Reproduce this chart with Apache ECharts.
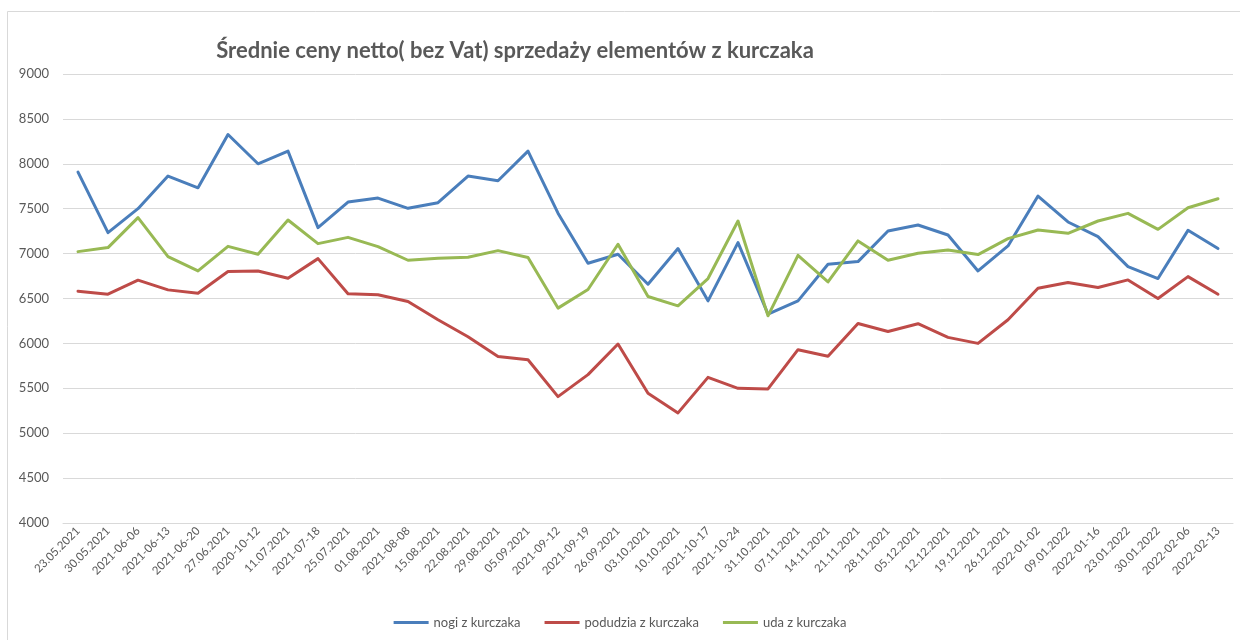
<!DOCTYPE html>
<html>
<head>
<meta charset="utf-8">
<script src="https://cdn.jsdelivr.net/npm/echarts@6/dist/echarts.min.js"></script>
<style>
html,body{margin:0;padding:0;background:#fff;}
#chart{width:1240px;height:640px;}
</style>
</head>
<body>
<div id="chart"></div>
<script>
const categories = ['23.05.2021','30.05.2021','2021-06-06','2021-06-13','2021-06-20','27.06.2021','2020-10-12','11.07.2021','2021-07-18','25.07.2021','01.08.2021','2021-08-08','15.08.2021','22.08.2021','29.08.2021','05.09.2021','2021-09-12','2021-09-19','26.09.2021','03.10.2021','10.10.2021','2021-10-17','2021-10-24','31.10.2021','07.11.2021','14.11.2021','21.11.2021','28.11.2021','05.12.2021','12.12.2021','19.12.2021','26.12.2021','2022-01-02','09.01.2022','2022-01-16','23.01.2022','30.01.2022','2022-02-06','2022-02-13'];

const nogi = [7907,7233,7500,7863,7733,8326,8000,8141,7289,7574,7618,7504,7567,7863,7811,8141,7450,6893,6993,6659,7056,6474,7122,6326,6474,6881,6911,7252,7318,7207,6807,7085,7641,7352,7189,6855,6722,7259,7056];
const podudzia = [6581,6548,6704,6596,6559,6800,6807,6726,6944,6552,6541,6467,6263,6074,5855,5818,5407,5652,5993,5444,5226,5622,5500,5493,5930,5856,6222,6133,6219,6067,6000,6263,6615,6678,6622,6707,6500,6744,6548];
const uda = [7022,7067,7400,6967,6807,7081,6993,7374,7111,7181,7078,6926,6948,6959,7033,6956,6393,6600,7104,6522,6418,6722,7363,6307,6981,6685,7141,6926,7004,7041,6989,7167,7263,7226,7363,7448,7270,7511,7611];

const seriesNames = ['nogi z kurczaka','podudzia z kurczaka','uda z kurczaka'];
const colors = ['#4A7EBB','#BE4B48','#98B954'];
const titleText = 'Średnie ceny netto( bez Vat) sprzedaży elementów z kurczaka';

const chart = echarts.init(document.getElementById('chart'), null, {renderer:'canvas'});
const font = 'Lato, "Open Sans", sans-serif';
function mk(name, data, color){
  return {name, type:'line', data, symbol:'none', smooth:false,
    lineStyle:{color, width:3, cap:'round', join:'round'}, itemStyle:{color}};
}
chart.setOption({
  backgroundColor:'#fff',
  animation:false,
  color: colors,
  title:{text:titleText, left:510, top:35, textAlign:'center',
    textStyle:{fontFamily:font, fontWeight:'bold', fontSize:22, color:'#595959'}},
  graphic:[{type:'rect', shape:{x:7.5, y:11.5, width:1300, height:700},
    style:{fill:'none', stroke:'#d9d9d9', lineWidth:1}, silent:true, z:-1}],
  legend:{bottom:6, left:'center', data:seriesNames, icon:'rect', itemWidth:35, itemHeight:3, itemGap:24,
    textStyle:{fontFamily:font, fontSize:13, color:'#595959'}},
  grid:{left:63, right:7, top:74, bottom:117, containLabel:false},
  xAxis:{type:'category', data:categories, boundaryGap:true,
    axisLine:{show:true, lineStyle:{color:'#d9d9d9', width:1}},
    axisTick:{show:false},
    axisLabel:{rotate:45, interval:0, fontFamily:font, fontSize:11.5, color:'#595959', margin:6}},
  yAxis:{type:'value', min:4000, max:9000, interval:500,
    axisLine:{show:false}, axisTick:{show:false},
    splitLine:{lineStyle:{color:'#d9d9d9', width:1}},
    axisLabel:{fontFamily:font, fontSize:13, color:'#595959', margin:14, formatter:function(v){return String(v);}}},
  series:[mk(seriesNames[0], nogi, colors[0]), mk(seriesNames[1], podudzia, colors[1]), mk(seriesNames[2], uda, colors[2])]
});
</script>
</body>
</html>
